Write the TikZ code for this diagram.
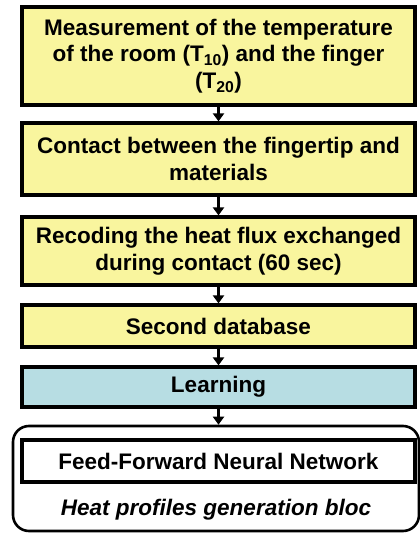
\documentclass[tikz,border=0pt]{standalone}
\usepackage{fontspec}
\setmainfont{Liberation Sans}
\usepackage{xcolor}
\usetikzlibrary{arrows.meta}
\definecolor{stepYellow}{HTML}{F9F59E}
\definecolor{learnBlue}{HTML}{B7DDE3}
\tikzset{
  arrow/.style={-{Triangle[length=8pt,width=11pt]}, draw=black, line width=3pt},
  stepbox/.style={rectangle, draw=black, line width=3.2pt, fill=stepYellow, minimum width=393pt, align=center, inner sep=3pt, font=\fontsize{22.5}{26.5}\selectfont\bfseries},
  learnbox/.style={stepbox, fill=learnBlue},
  netbox/.style={stepbox, fill=white},
  blocframe/.style={rectangle, rounded corners=16pt, draw=black, line width=2.6pt, fill=white, minimum width=406pt, minimum height=105pt},
  blocLabel/.style={font=\fontsize{22.5}{26.5}\selectfont\bfseries\itshape}
}

\begin{document}
\begin{tikzpicture}[x=1pt,y=1pt]
\useasboundingbox (0,0) rectangle (420,-533);

% --------------------------------------------------------------------------
% steps of the acquisition
% --------------------------------------------------------------------------
\node[stepbox, minimum height=98pt] (measure) at (218.5,-56) {Measurement of the temperature\\of the room (T\textsubscript{10}) and the finger\\(T\textsubscript{20})};
\node[stepbox, minimum height=72pt] (contact) at (218.5,-159) {Contact between the fingertip and\\materials};
\node[stepbox, minimum height=68pt] (record) at (218.5,-251) {Recoding the heat flux exchanged\\during contact (60 sec)};
\node[stepbox, minimum height=42pt] (database) at (218.5,-326) {Second database};
\node[learnbox, minimum height=40pt] (learning) at (218.5,-387) {Learning};

% --------------------------------------------------------------------------
% generation bloc
% --------------------------------------------------------------------------
\node[blocframe] (bloc) at (216,-478.5) {};
\node[netbox, minimum height=42pt] (ffnn) at (218.5,-461) {Feed-Forward Neural Network};
\node[blocLabel] (blocName) at (216,-510) {Heat profiles generation bloc};

\draw[arrow] (measure.south) -- (contact.north);
\draw[arrow] (contact.south) -- (record.north);
\draw[arrow] (record.south) -- (database.north);
\draw[arrow] (database.south) -- (learning.north);
\draw[arrow] (learning.south) -- (bloc.north -| learning.south);

\end{tikzpicture}
\end{document}
